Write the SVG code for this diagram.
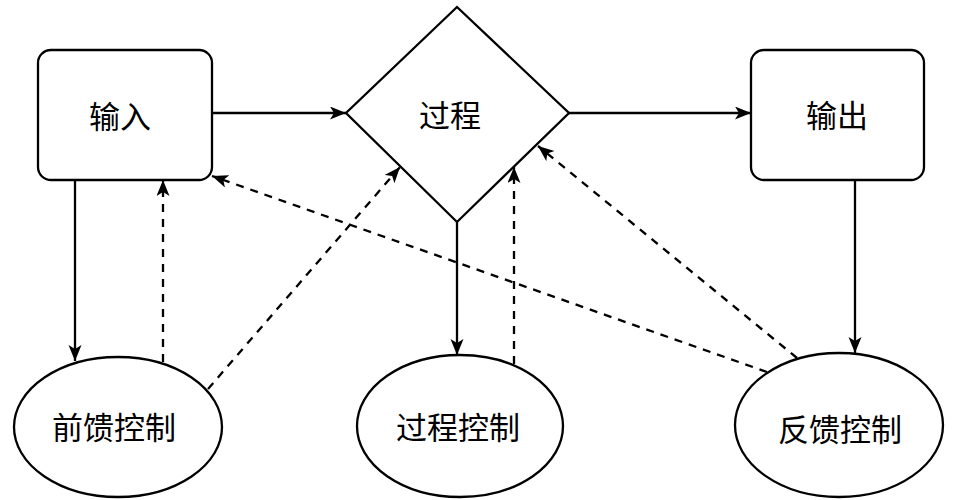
<svg xmlns="http://www.w3.org/2000/svg" width="957" height="500" viewBox="0 0 957 500">
<style>
.node{fill:#fff;stroke:#000;stroke-width:2.3}
.lbl{font-family:"Noto Sans CJK SC","Noto Sans",sans-serif;font-size:31px;fill:#000;text-anchor:middle;dominant-baseline:central}
.c{fill:none;stroke:#000;stroke-width:2.3;marker-end:url(#arr)}
.d{stroke-dasharray:8 7}
</style>
<defs>
<marker id="arr" markerUnits="userSpaceOnUse" markerWidth="17" markerHeight="14" refX="16" refY="6.5" orient="auto" viewBox="0 0 17 14">
<path d="M0,0 L16,6.5 L0,13 L4,6.5 z" fill="#000"/>
</marker>
</defs>
<rect width="957" height="500" fill="#fff"/>
<g id="connectors">
<path class="c" d="M212,113 L346,113"/>
<path class="c" d="M569,113 L751,113"/>
<path class="c" d="M75,180 L75,361"/>
<path class="c d" d="M163,362 L163,180"/>
<path class="c d" d="M208,389 L400,167"/>
<path class="c d" d="M767,372 L212,176"/>
<path class="c d" d="M797,358 L538,146"/>
<path class="c" d="M457,222 L457,355"/>
<path class="c d" d="M514,364 L514,167"/>
<path class="c" d="M855,180 L855,353"/>
</g>
<g id="input">
<rect class="node" x="38" y="50" width="174" height="130" rx="13"/>
<text class="lbl" x="120" y="114">输入</text>
</g>
<g id="process">
<path class="node" d="M457,7 L569,113 L457,222 L346,113 Z"/>
<text class="lbl" x="450" y="113">过程</text>
</g>
<g id="output">
<rect class="node" x="751" y="50" width="173" height="130" rx="13"/>
<text class="lbl" x="837" y="113">输出</text>
</g>
<g id="feedforward">
<ellipse class="node" cx="118" cy="427" rx="104" ry="70"/>
<text class="lbl" x="114" y="425">前馈控制</text>
</g>
<g id="processcontrol">
<ellipse class="node" cx="460" cy="426" rx="103" ry="71"/>
<text class="lbl" x="458" y="425">过程控制</text>
</g>
<g id="feedback">
<ellipse class="node" cx="839" cy="425" rx="104" ry="72"/>
<text class="lbl" x="840" y="427">反馈控制</text>
</g>
</svg>
